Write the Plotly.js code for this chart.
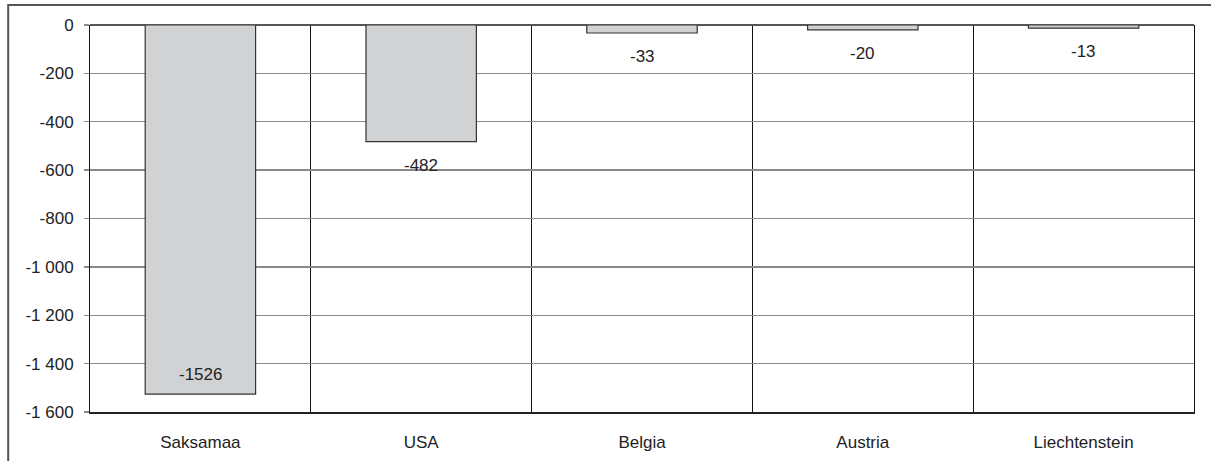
<!DOCTYPE html>
<html>
<head>
<meta charset="utf-8">
<script src="https://cdn.plot.ly/plotly-3.0.1.min.js"></script>
<style>
html,body{margin:0;padding:0;background:#fff;}
#chart{width:1211px;height:461px;}
</style>
</head>
<body>
<div id="chart"></div>
<script>
const categories = ["Saksamaa", "USA", "Belgia", "Austria", "Liechtenstein"];
const values = [-1526, -482, -33, -20, -13];
const labelInside = [true, false, false, false, false];
const tickValues = [0, -200, -400, -600, -800, -1000, -1200, -1400, -1600];
const tickLabels = ["0", "-200", "-400", "-600", "-800", "-1 000", "-1 200", "-1 400", "-1 600"];

const FONT = "Liberation Sans, Arial, sans-serif";

const trace = {
  type: "bar",
  x: categories,
  y: values,
  marker: {color: "#d1d2d4", line: {color: "#333333", width: 1.2}},
  hoverinfo: "x+y"
};

const annotations = categories.map((c, i) => ({
  x: c,
  y: values[i],
  xref: "x",
  yref: "y",
  text: String(values[i]),
  showarrow: false,
  yanchor: labelInside[i] ? "bottom" : "top",
  yshift: labelInside[i] ? 8 : -12,
  font: {family: FONT, size: 17, color: "#222"}
}));

const layout = {
  width: 1211,
  height: 461,
  margin: {l: 90, r: 17, t: 25, b: 49},
  paper_bgcolor: "#ffffff",
  plot_bgcolor: "#ffffff",
  showlegend: false,
  bargap: 0.5,
  font: {family: FONT, size: 17, color: "#222"},
  xaxis: {
    type: "category",
    tickson: "boundaries",
    showgrid: true,
    gridcolor: "#111111",
    gridwidth: 1,
    ticks: "",
    showline: true,
    linecolor: "#222222",
    linewidth: 1.5,
    ticklabelstandoff: 14,
    tickfont: {family: FONT, size: 17, color: "#222"},
    zeroline: false
  },
  yaxis: {
    range: [-1600, 0],
    tickmode: "array",
    tickvals: tickValues,
    ticktext: tickLabels,
    showgrid: true,
    gridcolor: "#8a8a8a",
    gridwidth: 1.3,
    ticks: "outside",
    ticklen: 5,
    tickcolor: "#8a8a8a",
    tickwidth: 1.3,
    showline: true,
    mirror: true,
    linecolor: "#111111",
    linewidth: 1,
    zeroline: true,
    zerolinecolor: "#555555",
    zerolinewidth: 2.5,
    ticklabelstandoff: 7,
    tickfont: {family: FONT, size: 17, color: "#222"}
  },
  annotations: annotations,
  shapes: [{
    type: "rect",
    xref: "paper", yref: "paper",
    x0: -0.0741, x1: 1.03,
    y0: -0.2, y1: 1.0517,
    line: {color: "#555555", width: 2},
    fillcolor: "rgba(0,0,0,0)",
    layer: "below"
  }]
};

Plotly.newPlot("chart", [trace], layout, {displayModeBar: false, staticPlot: true});
</script>
</body>
</html>
